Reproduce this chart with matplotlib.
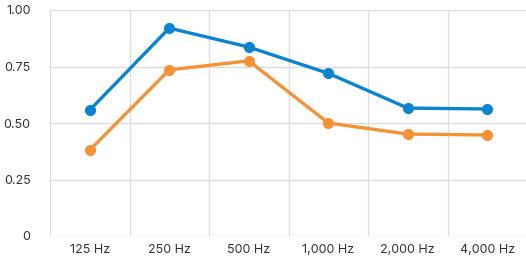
import numpy as np
import matplotlib.pyplot as plt

categories = ["125 Hz", "250 Hz", "500 Hz", "1,000 Hz", "2,000 Hz", "4,000 Hz"]
blue_vals = [0.557, 0.92, 0.836, 0.72, 0.566, 0.562]
orange_vals = [0.38, 0.735, 0.775, 0.50, 0.451, 0.447]
y_ticks = [0, 0.25, 0.50, 0.75, 1.00]
y_labels = ["0", "0.25", "0.50", "0.75", "1.00"]

plt.rcParams["font.family"] = ["Inter", "DejaVu Sans"]

fig = plt.figure(figsize=(5.26, 2.58), dpi=100)
ax = fig.add_axes([50 / 526, 22 / 258, 477 / 526, 226 / 258])

x = np.arange(len(categories))
ax.plot(x, blue_vals, "-o", color="#0b84cf", lw=2.4, ms=7, zorder=3)
ax.plot(x, orange_vals, "-o", color="#f59236", lw=2.4, ms=7, zorder=3)

ax.set_xlim(-0.5, len(categories) - 0.5)
ax.set_ylim(0, 1.0)
ax.set_xticks(x)
ax.set_xticklabels(categories, fontsize=9, color="#333333")
ax.set_xticks(np.arange(-0.5, len(categories), 1.0), minor=True)
ax.set_yticks(y_ticks)
ax.set_yticklabels(y_labels, fontsize=9, color="#333333")
ax.tick_params(axis="both", which="both", length=0)
ax.tick_params(axis="y", pad=14)
ax.tick_params(axis="x", pad=6)
ax.grid(True, axis="y", color="#dcdcdc", lw=0.9)
ax.grid(True, axis="x", which="minor", color="#dcdcdc", lw=0.9)
for s in ax.spines.values():
    s.set_visible(False)
ax.set_axisbelow(True)

fig.savefig("out.png", dpi=100, facecolor="white")
